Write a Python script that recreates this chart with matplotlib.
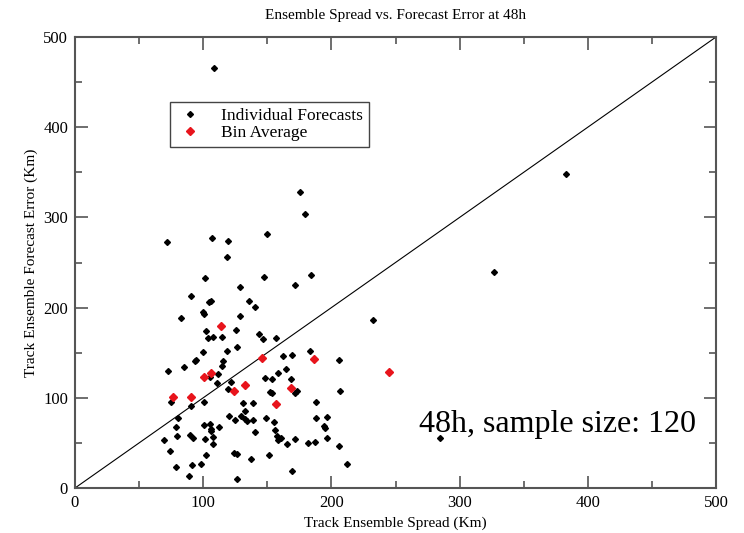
import matplotlib
matplotlib.use('Agg')
import matplotlib.pyplot as plt
import numpy as np

# individual forecasts: (track ensemble spread, forecast error), km
spread = [71.6, 106.7, 101.7, 90.8, 104.8, 106.2, 82.8, 100.2, 101.0, 102.5,
          175.3, 179.5, 150.0, 119.7, 118.9, 147.5, 184.4, 128.8, 171.4, 136.0,
          140.2, 128.8, 125.4, 143.6, 104.0, 108.0, 99.9, 93.7, 94.5, 85.1,
          72.4, 105.6, 74.7, 90.8, 100.9, 80.7, 78.9, 79.6, 69.8, 89.5,
          92.4, 100.9, 105.6, 105.8, 106.2, 101.7, 107.5, 107.5, 73.9, 102.5,
          78.9, 91.6, 98.4, 88.8, 115.0, 146.5, 156.9, 126.2, 118.9, 183.6,
          162.6, 169.6, 205.8, 115.8, 114.7, 111.6, 110.6, 122.0, 119.7, 158.7,
          164.9, 148.5, 154.0, 168.6, 171.4, 173.0, 152.4, 153.7, 206.5, 131.1,
          138.7, 188.3, 132.9, 120.0, 129.8, 132.4, 134.0, 124.6, 138.7, 149.3,
          155.0, 187.8, 196.6, 194.0, 195.3, 112.4, 140.2, 155.8, 157.5, 158.5,
          160.5, 171.4, 165.7, 182.0, 187.0, 196.9, 205.8, 124.1, 126.2, 151.6,
          137.6, 169.6, 126.4, 212.2, 382.8, 327.2, 232.3, 284.5, 108.7]
error = [272.3, 277.0, 232.7, 212.7, 206.0, 207.5, 188.4, 195.0, 192.8, 174.3,
         328.0, 304.0, 281.8, 273.4, 256.0, 233.8, 236.0, 222.4, 224.6, 206.9,
         200.9, 190.6, 175.4, 171.0, 166.0, 167.6, 150.7, 140.4, 141.5, 133.7,
         130.0, 122.6, 94.9, 90.5, 95.2, 77.5, 67.8, 57.5, 53.1, 58.6,
         55.0, 69.7, 70.5, 65.0, 63.0, 54.6, 56.4, 48.3, 41.2, 36.5,
         23.2, 25.0, 26.2, 13.5, 167.6, 165.4, 166.2, 155.9, 152.1, 152.1,
         146.2, 147.3, 141.5, 140.4, 135.1, 126.0, 116.0, 117.0, 110.0, 127.7,
         131.5, 121.8, 120.4, 120.4, 104.9, 107.1, 106.3, 104.9, 107.8, 94.1,
         94.1, 95.2, 84.9, 80.0, 79.7, 76.7, 74.2, 75.6, 75.6, 77.5,
         73.1, 77.5, 78.6, 69.0, 66.7, 67.5, 62.3, 63.8, 58.0, 53.0,
         55.0, 54.2, 48.3, 49.4, 50.6, 55.7, 46.8, 39.0, 37.6, 36.5,
         32.4, 19.1, 9.9, 26.2, 348.0, 239.4, 185.8, 55.3, 465.9]

# bin averages
bin_spread = [76.3, 90.8, 101.0, 106.4, 114.0, 123.9, 132.9, 146.0, 156.6, 168.6, 186.3, 245.0]
bin_error = [100.8, 100.8, 123.3, 127.4, 179.2, 107.1, 113.7, 143.7, 93.0, 110.4, 142.6, 128.8]

plt.rcParams['font.family'] = ['Liberation Serif', 'DejaVu Serif']

fig = plt.figure(figsize=(7.44, 5.33), dpi=100)
ax = fig.add_axes([0.1008, 0.0844, 0.8616, 0.8462])

ax.plot([0, 500], [0, 500], color='k', lw=0.8)
ax.plot(spread, error, 'D', color='k', ms=3, ls='none', label='Individual Forecasts')
ax.plot(bin_spread, bin_error, 'D', color='#e8141c', ms=4.3, ls='none', label='Bin Average')

ax.set_xlim(0, 500)
ax.set_ylim(0, 500)
ax.set_xticks(np.arange(0, 501, 100))
ax.set_yticks(np.arange(0, 501, 100))
ax.set_xticks(np.arange(50, 500, 100), minor=True)
ax.set_yticks(np.arange(50, 500, 100), minor=True)
ax.tick_params(which='both', direction='in', top=True, right=True, color='#555555',
               labelsize=12, pad=5)
ax.tick_params(which='major', length=9, width=1.2)
ax.tick_params(which='minor', length=5, width=1.2)
for s in ax.spines.values():
    s.set_color('#555555')
    s.set_linewidth(1.5)

ax.set_xlabel('Track Ensemble Spread (Km)', fontsize=11, labelpad=4)
ax.set_ylabel('Track Ensemble Forecast Error (Km)', fontsize=11, labelpad=4)
ax.set_title('Ensemble Spread vs. Forecast Error at 48h', fontsize=11, pad=13)

leg = ax.legend(loc='upper left', bbox_to_anchor=(0.148, 0.856), fontsize=12.5,
                fancybox=False, framealpha=1, edgecolor='#444444', borderpad=0.35,
                borderaxespad=0, handletextpad=1.0, labelspacing=0.05,
                handlelength=1.6)
leg.get_frame().set_linewidth(1.0)

ax.text(484, 62, '48h, sample size: 120', fontsize=23, ha='right', va='baseline')

fig.savefig('out.png', dpi=100)
